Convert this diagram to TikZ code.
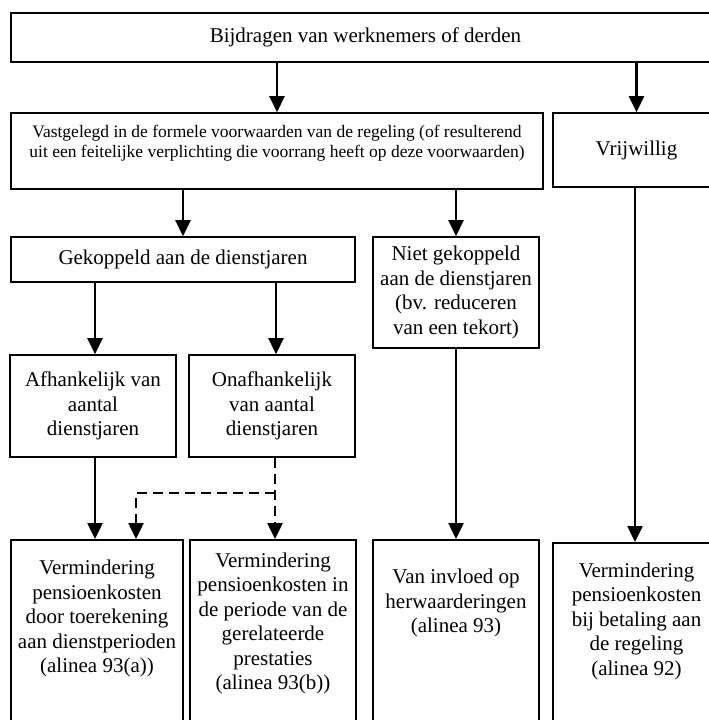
\documentclass[tikz,border=0pt]{standalone}
\usepackage{fontspec}
\setmainfont{Liberation Serif}
\usetikzlibrary{arrows.meta,positioning}

\begin{document}
\begin{tikzpicture}[x=1pt, y=-1pt,
      box/.style={draw, line width=1.6pt, inner sep=0pt},
      lbl/.style={align=center, font=\fontsize{21}{24.5}\selectfont},
      smalllbl/.style={align=center, font=\fontsize{17.5}{20.5}\selectfont},
      arr/.style={-{Triangle[width=15pt,length=16pt]}, line width=2.5pt},
      dasharr/.style={arr, dash pattern=on 10pt off 6pt}
    ]
    \useasboundingbox (0,0) rectangle (709,720);
    \clip (0,0) rectangle (709,720);

    % upper rows
    \node[box, lbl, minimum width=709pt, minimum height=49pt] (bijdr) at (365.5,37.5) {Bijdragen van werknemers of derden};
    \node[box, minimum width=532pt, minimum height=76pt] (vast) at (277,151) {};
    \node[smalllbl] (vasttxt) at (277,143) {Vastgelegd in de formele voorwaarden van de regeling (of resulterend\\uit een feitelijke verplichting die voorrang heeft op deze voorwaarden)};
    \node[box, lbl, minimum width=167pt, minimum height=74pt] (vrij) at (636.5,150) {Vrijwillig};

    \node[box, lbl, minimum width=344pt, minimum height=45pt] (gek) at (183,259.5) {Gekoppeld aan de dienstjaren};
    \node[box, lbl, minimum width=166pt, minimum height=111pt] (niet) at (456,292.5) {Niet gekoppeld\\aan de dienstjaren\\(bv. reduceren\\van een tekort)};

    \node[box, lbl, minimum width=166pt, minimum height=102pt] (afh) at (93,406) {Afhankelijk van\\aantal\\dienstjaren};
    \node[box, lbl, minimum width=166pt, minimum height=102pt] (onafh) at (272,406) {Onafhankelijk\\van aantal\\dienstjaren};

    % bottom row (boxes run past the lower edge)
    \node[box, anchor=north, minimum width=172pt, minimum height=250pt] (toer) at (97,539) {};
    \node[box, anchor=north, minimum width=166pt, minimum height=250pt] (prest) at (273,539) {};
    \node[box, anchor=north, minimum width=166pt, minimum height=250pt] (herw) at (456,539) {};
    \node[box, anchor=north, minimum width=167pt, minimum height=250pt] (bet) at (636.5,542) {};

    \node[lbl] (toertxt) at (97,618.5) {Vermindering\\pensioenkosten\\door toerekening\\aan dienstperioden\\(alinea 93(a))};
    \node[lbl] (presttxt) at (273,623.5) {Vermindering\\pensioenkosten in\\de periode van de\\gerelateerde\\prestaties\\(alinea 93(b))};
    \node[lbl] (herwtxt) at (456,603) {Van invloed op\\herwaarderingen\\(alinea 93)};
    \node[lbl] (bettxt) at (636.5,621) {Vermindering\\pensioenkosten\\bij betaling aan\\de regeling\\(alinea 92)};

    \coordinate (split) at (275,493);

    % connectors
    \draw[arr] (vast.north |- bijdr.south) -- (vast.north);
    \draw[arr] (vrij.north |- bijdr.south) -- (vrij.north);
    \draw[arr] (gek.north |- vast.south) -- (gek.north);
    \draw[arr] (niet.north |- vast.south) -- (niet.north);
    \draw[arr] ([xshift=2pt]afh.north |- gek.south) -- ([xshift=2pt]afh.north);
    \draw[arr] ([xshift=4pt]onafh.north |- gek.south) -- ([xshift=4pt]onafh.north);
    \draw[arr] ([xshift=2pt]afh.south) -- ([xshift=2pt]afh.south |- toer.north);
    \draw[dasharr] (onafh.south -| split) -- (split) -- (split |- prest.north);
    \draw[dasharr] (split) -| ([xshift=39pt]toer.north);
    \draw[arr] (niet.south) -- (herw.north);
    \draw[arr] ([xshift=-1.5pt]vrij.south) -- ([xshift=-1.5pt]bet.north);
  \end{tikzpicture}
\end{document}
